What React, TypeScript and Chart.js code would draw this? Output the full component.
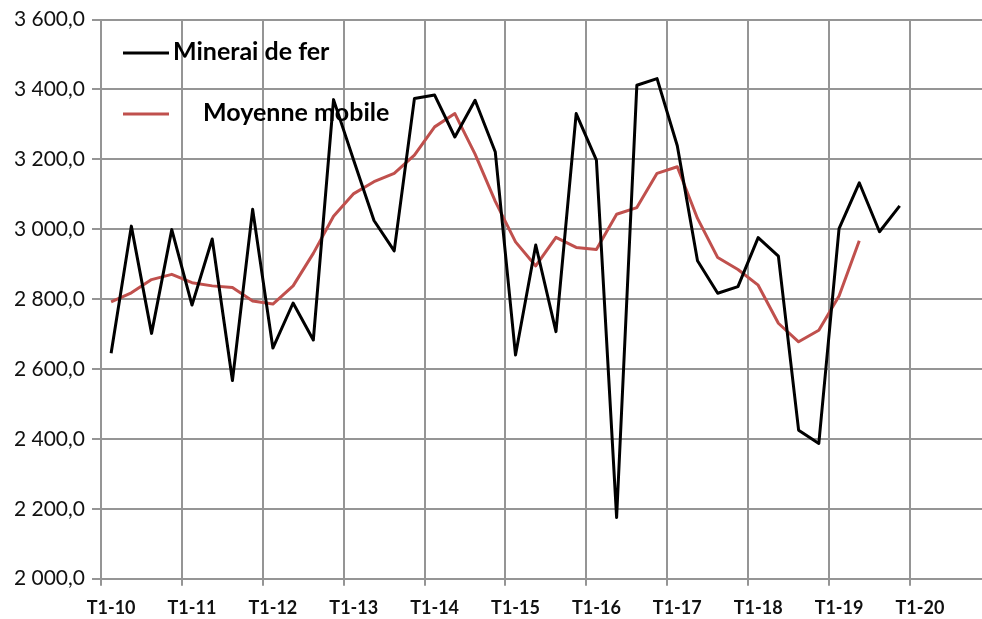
import { useEffect, useRef } from 'react';
import { Chart, registerables } from 'chart.js';

Chart.register(...registerables);

const YEARS = ['10', '11', '12', '13', '14', '15', '16', '17', '18', '19', '20'];
const QUARTERS = ['T1', 'T2', 'T3', 'T4'];
const CATEGORIES = YEARS.flatMap((y) => QUARTERS.map((q) => `${q}-${y}`));

const SERIES_NAMES = ['Minerai de fer', 'Moyenne mobile'];

const IRON_ORE = [
  2645, 3009, 2702, 2999, 2783, 2972, 2567, 3057, 2660, 2789,
  2683, 3371, 3197, 3025, 2938, 3374, 3384, 3264, 3369, 3221,
  2640, 2955, 2707, 3331, 3198, 2175, 3412, 3431, 3239, 2910,
  2817, 2836, 2976, 2923, 2425, 2387, 3002, 3133, 2993, 3067,
];

const MOVING_AVG = [
  2792, 2818, 2856, 2871, 2847, 2838, 2833, 2795, 2786, 2838,
  2931, 3037, 3102, 3136, 3160, 3212, 3293, 3331, 3215, 3080,
  2964, 2895, 2977, 2948, 2942, 3043, 3062, 3160, 3179, 3031,
  2919, 2885, 2840, 2731, 2678, 2711, 2809, 2967,
];

const Y_MIN = 2000;
const Y_MAX = 3600;
const Y_STEP = 200;

const GRID = '#959595';
const TEXT = '#111111';

function frNumber(v: number): string {
  const th = Math.floor(v / 1000);
  const rest = String(Math.round(v % 1000)).padStart(3, '0');
  return `${th} ${rest},0`;
}

const legendPlugin = {
  id: 'manualLegend',
  afterDatasetsDraw(chart: any) {
    const ctx = chart.ctx as CanvasRenderingContext2D;
    const items = [
      { text: SERIES_NAMES[0], color: '#000000', y: 52, tx: 173 },
      { text: SERIES_NAMES[1], color: '#C0504D', y: 113, tx: 203 },
    ];
    ctx.save();
    items.forEach((it) => {
      ctx.strokeStyle = it.color;
      ctx.lineWidth = 3;
      ctx.beginPath();
      ctx.moveTo(123, it.y + 1);
      ctx.lineTo(169, it.y + 1);
      ctx.stroke();
      ctx.fillStyle = '#000000';
      ctx.font = 'bold 25px Lato';
      ctx.textBaseline = 'middle';
      ctx.textAlign = 'left';
      ctx.fillText(it.text, it.tx, it.y);
    });
    ctx.restore();
  },
};

export default function App() {
  const ref = useRef<HTMLCanvasElement | null>(null);

  useEffect(() => {
    if (!ref.current) return;
    const gridColor = (c: any) =>
      c.index !== undefined && c.index % 4 === 0 ? GRID : 'rgba(0,0,0,0)';
    const chart = new Chart(ref.current, {
      type: 'line',
      data: {
        labels: CATEGORIES,
        datasets: [
          {
            label: SERIES_NAMES[0],
            data: IRON_ORE,
            borderColor: '#000000',
            backgroundColor: '#000000',
            borderWidth: 3,
            pointRadius: 0,
            tension: 0,
            borderJoinStyle: 'round',
          },
          {
            label: SERIES_NAMES[1],
            data: MOVING_AVG,
            borderColor: '#C0504D',
            backgroundColor: '#C0504D',
            borderWidth: 3,
            pointRadius: 0,
            tension: 0,
            borderJoinStyle: 'round',
          },
        ],
      },
      options: {
        responsive: false,
        animation: false,
        layout: { padding: { top: 19, right: 9.3, left: 0, bottom: 0 } },
        plugins: {
          legend: { display: false },
          tooltip: { enabled: false },
        },
        scales: {
          x: {
            type: 'category',
            offset: true,
            grid: {
              offset: true,
              color: gridColor,
              tickColor: gridColor,
              lineWidth: 2,
              tickLength: 7,
              drawTicks: true,
            },
            border: { display: true, color: GRID, width: 2 },
            ticks: {
              autoSkip: false,
              maxRotation: 0,
              minRotation: 0,
              padding: 12,
              color: TEXT,
              font: { family: 'Lato', size: 18, weight: 'bold' },
              callback: (_v: any, i: number) =>
                CATEGORIES[i].startsWith('T1') ? CATEGORIES[i] : '',
            },
            afterFit: (s: any) => {
              s.height = 40.3;
            },
          },
          y: {
            min: Y_MIN,
            max: Y_MAX,
            grid: {
              color: GRID,
              tickColor: GRID,
              lineWidth: 2,
              tickLength: 9,
            },
            border: { display: true, color: GRID, width: 2 },
            ticks: {
              stepSize: Y_STEP,
              padding: 7,
              color: TEXT,
              font: { family: 'Lato', size: 21 },
              callback: (v: any) => frNumber(Number(v)),
            },
            afterFit: (s: any) => {
              s.width = 101;
            },
          },
        },
      },
      plugins: [legendPlugin],
    });
    return () => chart.destroy();
  }, []);

  return (
    <div
      style={{
        position: 'fixed',
        left: 0,
        top: 0,
        width: 982,
        height: 619,
        overflow: 'hidden',
        background: '#ffffff',
      }}
    >
      <canvas ref={ref} width={1000} height={619} style={{ display: 'block' }} />
    </div>
  );
}
